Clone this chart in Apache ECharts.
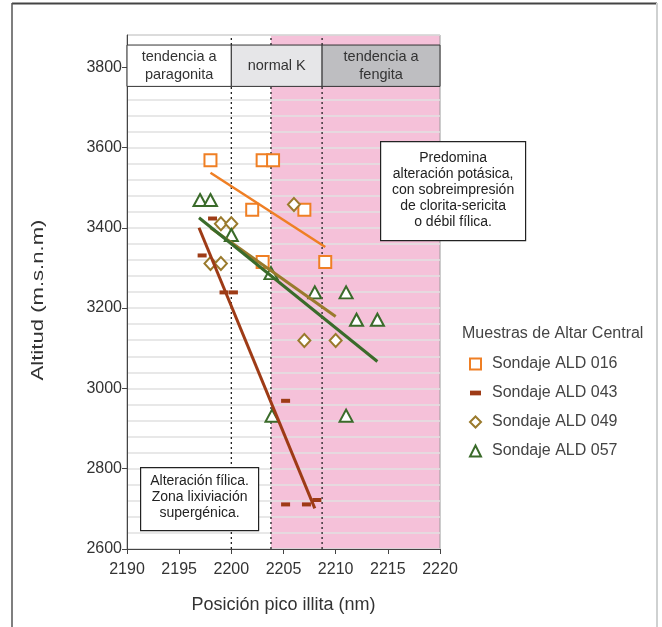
<!DOCTYPE html>
<html>
<head>
<meta charset="utf-8">
<script src="https://cdn.jsdelivr.net/npm/echarts@6/dist/echarts.min.js"></script>
<style>
  html, body { margin: 0; padding: 0; background: #fff; }
  #chart { width: 662px; height: 627px; }
</style>
</head>
<body>
<div id="chart"></div>
<script>
// Illite peak position (nm) vs altitude (m.s.n.m) for Altar Central drill holes
const seriesNames = ['Sondaje ALD 016', 'Sondaje ALD 043', 'Sondaje ALD 049', 'Sondaje ALD 057'];

const ald016 = [[2198, 3568], [2203, 3568], [2204, 3568], [2202, 3445], [2207, 3445], [2203, 3315], [2209, 3315]];
const ald043 = [[2198.2, 3423], [2197.2, 3331], [2199.3, 3239], [2200.2, 3239], [2205.2, 2969], [2205.2, 2711], [2207.2, 2711], [2208.2, 2722]];
const ald049 = [[2199, 3410], [2200, 3410], [2198, 3311], [2199, 3311], [2206, 3458], [2207, 3119], [2210, 3119]];
const ald057 = [[2197, 3469], [2198, 3469], [2200, 3382], [2203.8, 3287], [2208, 3239], [2211, 3239], [2212, 3171], [2214, 3171], [2203.9, 2932], [2211, 2932]];

// Linear trend per drill hole (start, end)
const trend016 = [[2198, 3537], [2209, 3352]];
const trend043 = [[2196.9, 3400], [2208, 2701]];
const trend049 = [[2198, 3400], [2210, 3179]];
const trend057 = [[2196.9, 3425], [2214, 3067]];

// Axis ranges
const xRange = [2190, 2220];
const yRange = [2600, 3880];

// Pink band (potassic domain) and reference dotted lines
const pinkBand = [[2203.8, 2220]];
const refLines = [[2200], [2203.8], [2208.7]];

// Header cells: limits along x, vertical extent, labels
const headerCells = [[2190, 2200], [2200, 2208.7], [2208.7, 2220]];
const headerY = [3752, 3855];
const headerLabels = ['tendencia a\nparagonita', 'normal K', 'tendencia a\nfengita'];

const FONT = 'Liberation Sans, Arial, sans-serif';
const colors = ['#ef7f24', '#9e3b16', '#9a7a2c', '#3a6b2a'];
const headerFills = ['#ffffff', '#e6e6e8', '#bebec1'];

const chart = echarts.init(document.getElementById('chart'), null, { renderer: 'canvas' });

function scatterSeries(name, data, symbol, size, idx, hollow) {
  return {
    name: name,
    type: 'scatter',
    data: data,
    symbol: symbol,
    symbolSize: size,
    z: 3,
    itemStyle: hollow
      ? { color: '#ffffff', borderColor: colors[idx], borderWidth: 2, opacity: 1 }
      : { color: colors[idx], borderWidth: 0, opacity: 1 }
  };
}

function trendSeries(data, idx, width) {
  return {
    type: 'line',
    data: data,
    symbol: 'none',
    z: 4,
    silent: true,
    lineStyle: { color: colors[idx], width: width }
  };
}

// boxed note drawn above the plot
function noteBox(left, top, w, h, text, lineH, firstLineTop) {
  return {
    type: 'group', left: left, top: top,
    children: [
      { type: 'rect', z: 100, shape: { x: 0, y: 0, width: w, height: h }, style: { fill: '#fff', stroke: '#222', lineWidth: 1.2 } },
      {
        type: 'text', z: 101, x: w / 2, y: firstLineTop,
        style: { text: text, font: '14px ' + FONT, fill: '#222', align: 'center', verticalAlign: 'top', lineHeight: lineH }
      }
    ]
  };
}

const option = {
  animation: false,
  backgroundColor: '#ffffff',
  textStyle: { fontFamily: FONT },
  grid: {
    left: 127, right: 222, top: 35, bottom: 78,
    show: true, borderColor: '#9a9a9a', borderWidth: 1, backgroundColor: 'transparent'
  },
  xAxis: {
    type: 'value',
    min: xRange[0], max: xRange[1], interval: 5,
    name: 'Posición pico illita (nm)',
    nameLocation: 'middle', nameGap: 47,
    nameTextStyle: { fontSize: 18, color: '#333', fontFamily: FONT },
    axisLine: { show: true, lineStyle: { color: '#444', width: 1 } },
    axisTick: { show: true, length: 5, lineStyle: { color: '#444' } },
    axisLabel: { fontSize: 16, color: '#333', margin: 13, fontFamily: FONT, formatter: v => String(v) },
    splitLine: { show: false }
  },
  yAxis: [
    {
      type: 'value',
      min: yRange[0], max: yRange[1], interval: 200,
      axisLine: { show: true, lineStyle: { color: '#444', width: 1 } },
      axisTick: { show: true, length: 5, lineStyle: { color: '#444' } },
      axisLabel: {
        fontSize: 16, color: '#333', margin: 5, fontFamily: FONT,
        showMaxLabel: false,
        formatter: v => (v % 200 === 0 ? String(v) : '')
      },
      splitLine: { show: false }
    },
    {
      type: 'value',
      position: 'left',
      min: yRange[0], max: yRange[1], interval: 40,
      axisLine: { show: false },
      axisTick: { show: false },
      axisLabel: { show: false },
      splitLine: { show: true, lineStyle: { color: '#e1e1e1', width: 1.5 } }
    }
  ],
  legend: {
    orient: 'vertical',
    left: 464, top: 351,
    itemWidth: 11, itemHeight: 11,
    itemGap: 13,
    textStyle: { fontSize: 16, color: '#444', fontFamily: FONT, padding: [0, 0, 0, 6], lineHeight: 16 },
    data: [
      { name: seriesNames[0], icon: 'rect', itemStyle: { color: '#fff', borderColor: colors[0], borderWidth: 2 } },
      { name: seriesNames[1], icon: 'path://M0,0L7,0L7,3L0,3Z', itemStyle: { color: colors[1], borderWidth: 0 } },
      { name: seriesNames[2], icon: 'diamond', itemStyle: { color: '#fff', borderColor: colors[2], borderWidth: 2 } },
      { name: seriesNames[3], icon: 'triangle', itemStyle: { color: '#fff', borderColor: colors[3], borderWidth: 2 } }
    ]
  },
  graphic: [
    // page frame
    { type: 'line', shape: { x1: 12, y1: 3.5, x2: 657, y2: 3.5 }, style: { stroke: '#444', lineWidth: 2 } },
    { type: 'line', shape: { x1: 12, y1: 3, x2: 12, y2: 627 }, style: { stroke: '#555', lineWidth: 1.5 } },
    { type: 'line', shape: { x1: 657, y1: 3, x2: 657, y2: 627 }, style: { stroke: '#cfd1d1', lineWidth: 2 } },
    // y axis title, set with wide tracking
    {
      type: 'text', x: 38, y: 300, rotation: Math.PI / 2, scaleX: 1.3,
      style: { text: 'Altitud (m.s.n.m)', font: '17px ' + FONT, fill: '#333', align: 'center', verticalAlign: 'middle' }
    },
    // legend heading
    {
      type: 'text', left: 462, top: 326,
      style: { text: 'Muestras de Altar Central', font: '16px ' + FONT, fill: '#444' }
    },
    noteBox(380, 141, 145, 99, 'Predomina\nalteración potásica,\ncon sobreimpresión\nde clorita-sericita\no débil fílica.', 16, 9),
    noteBox(140, 467, 118, 63, 'Alteración fílica.\nZona lixiviación\nsupergénica.', 16, 6)
  ],
  series: [
    // pink band, beneath the grid lines
    {
      type: 'custom',
      z: -1,
      silent: true,
      data: pinkBand,
      encode: { x: [0, 1] },
      renderItem: function (params, api) {
        const p0 = api.coord([api.value(0), yRange[1]]);
        const p1 = api.coord([api.value(1), yRange[0]]);
        return {
          type: 'rect',
          shape: { x: p0[0], y: p0[1], width: p1[0] - p0[0], height: p1[1] - p0[1] },
          style: { fill: '#f5c1d9' }
        };
      }
    },
    // dotted reference lines, broken by the header
    {
      type: 'custom',
      z: 2,
      silent: true,
      data: refLines,
      encode: { x: 0 },
      renderItem: function (params, api) {
        const x = api.value(0);
        const a = api.coord([x, yRange[0]]);
        const b = api.coord([x, headerY[0]]);
        const c = api.coord([x, headerY[1]]);
        const d = api.coord([x, yRange[1]]);
        const st = { stroke: '#222', lineWidth: 1.3, lineDash: [2, 3] };
        return {
          type: 'group',
          children: [
            { type: 'line', shape: { x1: a[0], y1: a[1], x2: b[0], y2: b[1] }, style: st },
            { type: 'line', shape: { x1: c[0], y1: c[1], x2: d[0], y2: d[1] }, style: st }
          ]
        };
      }
    },
    // header cells
    {
      type: 'custom',
      z: 5,
      silent: true,
      data: headerCells,
      encode: { x: [0, 1] },
      renderItem: function (params, api) {
        const i = params.dataIndex;
        const p0 = api.coord([api.value(0), headerY[1]]);
        const p1 = api.coord([api.value(1), headerY[0]]);
        return {
          type: 'group',
          children: [
            {
              type: 'rect',
              shape: { x: p0[0], y: p0[1], width: p1[0] - p0[0], height: p1[1] - p0[1] },
              style: { fill: headerFills[i], stroke: '#333', lineWidth: 1 }
            },
            {
              type: 'text',
              x: (p0[0] + p1[0]) / 2, y: (p0[1] + p1[1]) / 2,
              style: {
                text: headerLabels[i], font: '14.5px ' + FONT, fill: '#333',
                align: 'center', verticalAlign: 'middle', lineHeight: 18
              }
            }
          ]
        };
      }
    },
    scatterSeries(seriesNames[0], ald016, 'rect', 12, 0, true),
    scatterSeries(seriesNames[1], ald043, 'rect', [9, 4], 1, false),
    scatterSeries(seriesNames[2], ald049, 'diamond', [12, 13], 2, true),
    scatterSeries(seriesNames[3], ald057, 'triangle', [13, 12], 3, true),
    trendSeries(trend016, 0, 2.5),
    trendSeries(trend043, 1, 3),
    trendSeries(trend049, 2, 3),
    trendSeries(trend057, 3, 3)
  ]
};

chart.setOption(option);
</script>
</body>
</html>
